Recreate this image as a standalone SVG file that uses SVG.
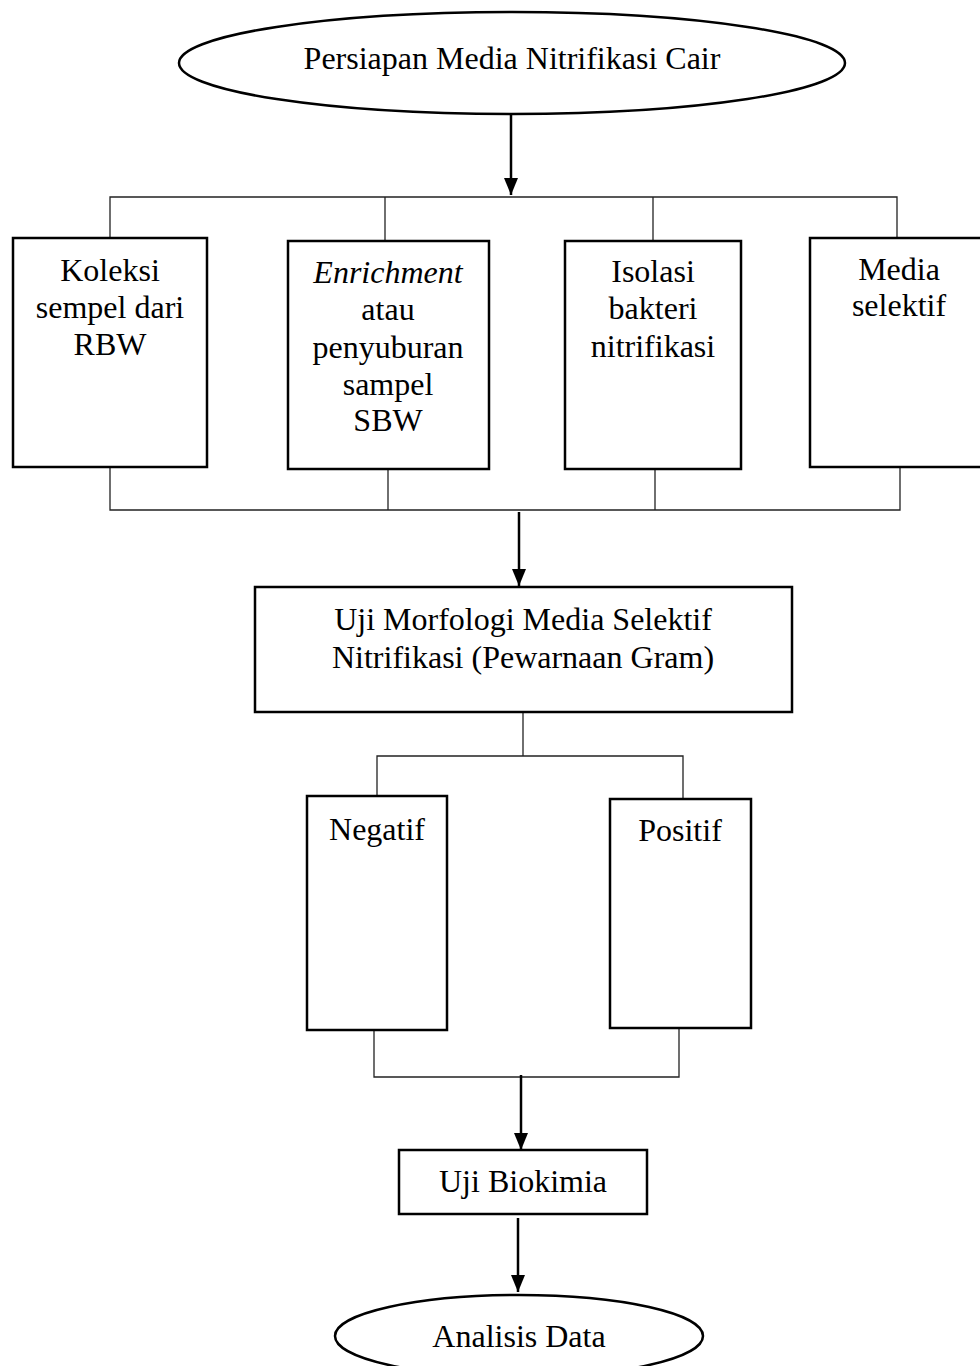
<svg xmlns="http://www.w3.org/2000/svg" width="980" height="1366" viewBox="0 0 980 1366">
<style>
.box{fill:#fff;stroke:#000;stroke-width:2.5}
.t{font-family:"Liberation Serif","Times New Roman",serif;font-size:32px;fill:#000;text-anchor:middle}
.c{fill:none;stroke:#222;stroke-width:1.3}
.a{fill:none;stroke:#000;stroke-width:2.5}
</style>
<defs>
<marker id="arr" markerWidth="14" markerHeight="17" refX="7" refY="17" orient="0" markerUnits="userSpaceOnUse">
<path d="M0,0 L14,0 L7,17 z" fill="#000"/>
</marker>
</defs>
<rect width="980" height="1366" fill="#fff"/>
<g id="connectors">
<line class="a" x1="511" y1="114" x2="511" y2="195" marker-end="url(#arr)"/>
<polyline class="c" points="110,238 110,197 897,197 897,237"/>
<line class="c" x1="385" y1="197" x2="385" y2="240"/>
<line class="c" x1="653" y1="197" x2="653" y2="240"/>
<polyline class="c" points="110,467 110,510 900,510 900,467"/>
<line class="c" x1="388" y1="469" x2="388" y2="510"/>
<line class="c" x1="655" y1="469" x2="655" y2="510"/>
<line class="a" x1="519" y1="512" x2="519" y2="586" marker-end="url(#arr)"/>
<line class="c" x1="523" y1="712" x2="523" y2="756"/>
<polyline class="c" points="377,797 377,756 683,756 683,799"/>
<polyline class="c" points="374,1030 374,1077 679,1077 679,1028"/>
<line class="a" x1="521" y1="1075" x2="521" y2="1150" marker-end="url(#arr)"/>
<line class="a" x1="518" y1="1218" x2="518" y2="1292" marker-end="url(#arr)"/>
</g>
<g id="start">
<ellipse class="box" cx="512" cy="63" rx="333" ry="51"/>
<text class="t" x="512" y="69">Persiapan Media Nitrifikasi Cair</text>
</g>
<g id="koleksi">
<rect class="box" x="13" y="238" width="194" height="229"/>
<text class="t" x="110" y="281">Koleksi</text>
<text class="t" x="110" y="318">sempel dari</text>
<text class="t" x="110" y="355">RBW</text>
</g>
<g id="enrichment">
<rect class="box" x="288" y="241" width="201" height="228"/>
<text class="t" x="388" y="283" font-style="italic">Enrichment</text>
<text class="t" x="388" y="320">atau</text>
<text class="t" x="388" y="358">penyuburan</text>
<text class="t" x="388" y="395">sampel</text>
<text class="t" x="388" y="431">SBW</text>
</g>
<g id="isolasi">
<rect class="box" x="565" y="241" width="176" height="228"/>
<text class="t" x="653" y="282">Isolasi</text>
<text class="t" x="653" y="319">bakteri</text>
<text class="t" x="653" y="357">nitrifikasi</text>
</g>
<g id="media">
<rect class="box" x="810" y="238" width="180" height="229"/>
<text class="t" x="899" y="280">Media</text>
<text class="t" x="899" y="316">selektif</text>
</g>
<g id="morfologi">
<rect class="box" x="255" y="587" width="537" height="125"/>
<text class="t" x="523" y="630">Uji Morfologi Media Selektif</text>
<text class="t" x="523" y="668">Nitrifikasi (Pewarnaan Gram)</text>
</g>
<g id="negatif">
<rect class="box" x="307" y="796" width="140" height="234"/>
<text class="t" x="377" y="840">Negatif</text>
</g>
<g id="positif">
<rect class="box" x="610" y="799" width="141" height="229"/>
<text class="t" x="680" y="841">Positif</text>
</g>
<g id="biokimia">
<rect class="box" x="399" y="1150" width="248" height="64"/>
<text class="t" x="523" y="1192">Uji Biokimia</text>
</g>
<g id="end">
<ellipse class="box" cx="519" cy="1336" rx="184" ry="41"/>
<text class="t" x="519" y="1347">Analisis Data</text>
</g>
</svg>
